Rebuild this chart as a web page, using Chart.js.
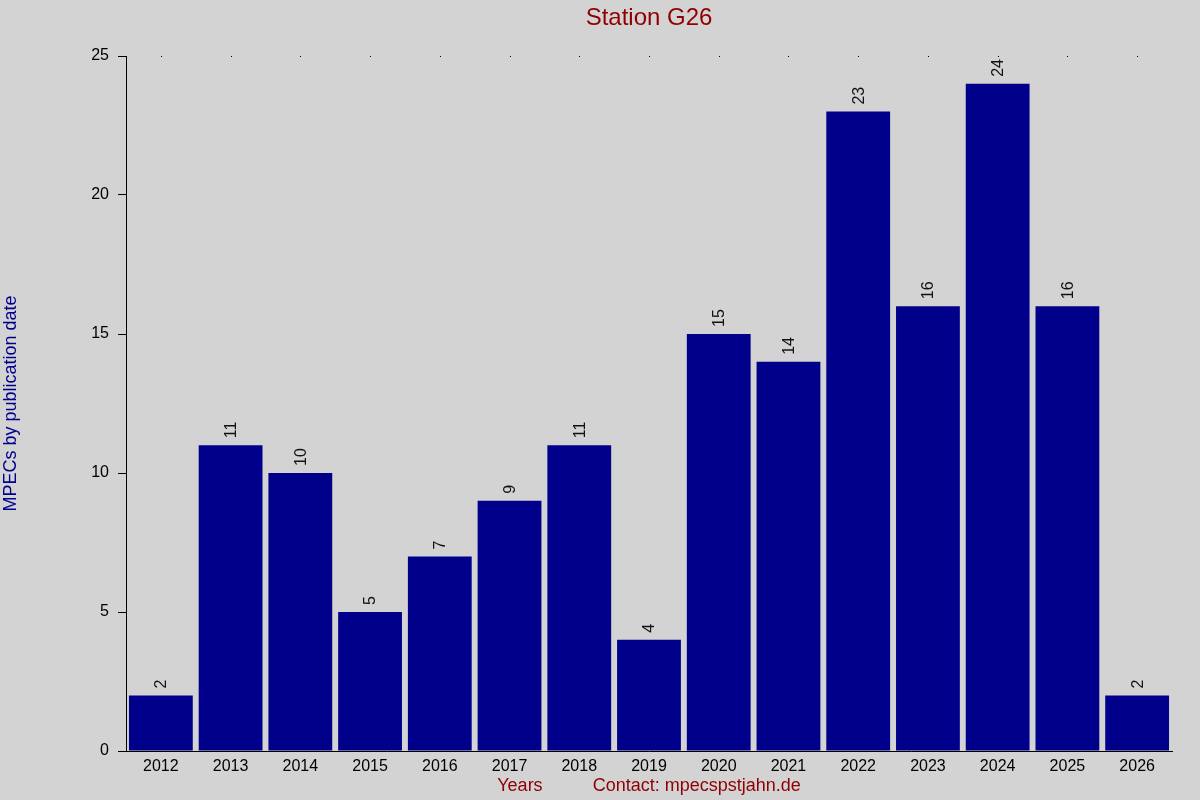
<!DOCTYPE html>
<html>
<head>
<meta charset="utf-8">
<title>Station G26</title>
<script src="https://cdn.jsdelivr.net/npm/chart.js@4.4.1/dist/chart.umd.min.js"></script>
<style>
  html, body { margin: 0; padding: 0; background: #d3d3d3; }
  #chart { display: block; }
</style>
</head>
<body>
<canvas id="chart" width="1200" height="800"></canvas>
<script>
// data
var years = ["2012", "2013", "2014", "2015", "2016", "2017", "2018", "2019",
  "2020", "2021", "2022", "2023", "2024", "2025", "2026"];
var mpecCounts = [2, 11, 10, 5, 7, 9, 11, 4, 15, 14, 23, 16, 24, 16, 2];
var yTicks = [0, 5, 10, 15, 20, 25];
var chartTitle = "Station G26";

var barColor = "#00008b";
var redText = "#900000";
var fontName = "'Liberation Sans', Arial, sans-serif";

// title centred over the plot, numbers above the bars, dots along the top
var barLabels = {
  id: "barLabels",
  afterDraw: function (chart) {
    var ctx = chart.ctx;
    var area = chart.chartArea;
    ctx.save();
    ctx.fillStyle = redText;
    ctx.font = "24px " + fontName;
    ctx.textAlign = "center";
    ctx.textBaseline = "middle";
    ctx.fillText(chartTitle, (area.left + area.right) / 2, 18);
    ctx.restore();
  },
  afterDatasetsDraw: function (chart) {
    var ctx = chart.ctx;
    var meta = chart.getDatasetMeta(0);
    ctx.save();
    ctx.fillStyle = "#111";
    ctx.font = "16px " + fontName;
    ctx.textAlign = "left";
    ctx.textBaseline = "middle";
    meta.data.forEach(function (bar, i) {
      ctx.save();
      ctx.translate(bar.x + 1, bar.y - 7);
      ctx.rotate(-Math.PI / 2);
      ctx.fillText(String(mpecCounts[i]), 0, 0);
      ctx.restore();
    });
    // dots at the top of the plot
    var top = chart.scales.y.getPixelForValue(yTicks[yTicks.length - 1]);
    ctx.fillStyle = "#000";
    for (var i = 0; i < years.length; i++) {
      var x = chart.scales.x.getPixelForValue(i);
      ctx.fillRect(Math.round(x), Math.round(top), 1, 1);
    }
    ctx.restore();
  }
};

var ctx = document.getElementById("chart").getContext("2d");
var chart = new Chart(ctx, {
  type: "bar",
  data: {
    labels: years,
    datasets: [
      {
        data: mpecCounts,
        backgroundColor: barColor,
        borderWidth: 0,
        barPercentage: 0.915,
        categoryPercentage: 1.0
      }
    ]
  },
  options: {
    responsive: false,
    devicePixelRatio: 1,
    animation: false,
    layout: { padding: { left: 0, right: 28, top: 56, bottom: 0 } },
    plugins: {
      legend: { display: false },
      tooltip: { enabled: false },
      title: { display: false }
    },
    scales: {
      x: {
        grid: { display: false, drawTicks: false },
        border: { display: true, color: "#000", width: 1 },
        ticks: {
          color: "#000",
          padding: 6,
          maxRotation: 0,
          font: { family: fontName, size: 16 }
        },
        title: {
          display: true,
          text: "Years          Contact: mpecspstjahn.de",
          color: redText,
          font: { family: fontName, size: 18 },
          padding: { top: 0, bottom: 3 }
        },
        afterFit: function (scale) { scale.height = 49; }
      },
      y: {
        min: 0,
        max: 25,
        grid: {
          drawOnChartArea: false,
          drawTicks: true,
          tickLength: 8,
          color: "#000"
        },
        border: { display: true, color: "#000", width: 1 },
        ticks: {
          stepSize: 5,
          padding: 9,
          color: "#000",
          font: { family: fontName, size: 16 }
        },
        afterBuildTicks: function (scale) {
          scale.ticks = yTicks.map(function (v) { return { value: v }; });
        },
        title: {
          display: true,
          text: "MPECs by publication date",
          color: barColor,
          font: { family: fontName, size: 18 },
          padding: { top: 0, bottom: 0 }
        },
        afterFit: function (scale) { scale.width = 126; }
      }
    }
  },
  plugins: [barLabels]
});
</script>
</body>
</html>
